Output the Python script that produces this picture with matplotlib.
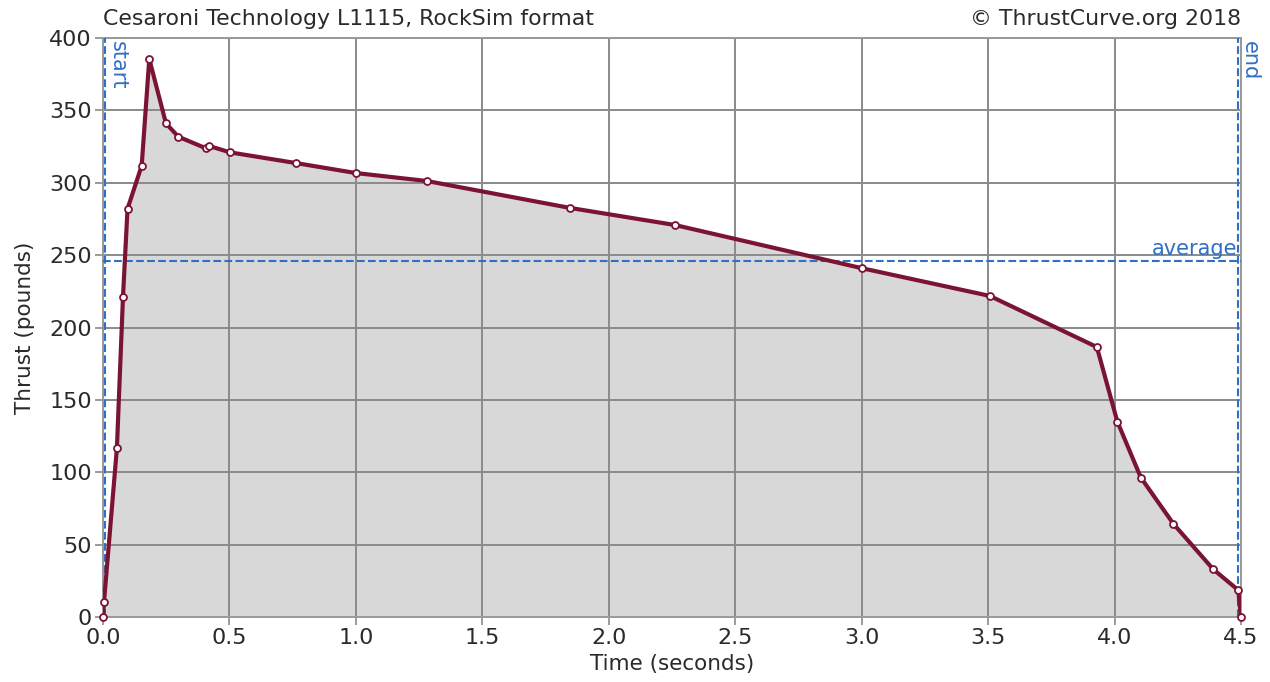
import matplotlib
matplotlib.use('Agg')
import matplotlib.pyplot as plt

# Thrust curve samples
time_s = [0.0, 0.004, 0.055, 0.079, 0.097, 0.153, 0.183, 0.249, 0.298, 0.407,
          0.42, 0.502, 0.763, 1.0, 1.281, 1.847, 2.262, 3.0, 3.507, 3.93,
          4.011, 4.104, 4.233, 4.39, 4.489, 4.5]
thrust_lb = [0, 10.4, 116.8, 221, 282, 311.8, 385.5, 341, 331.8, 323.8,
             325.4, 321, 313.6, 306.7, 301.2, 282.6, 270.8, 241, 221.8, 186.5,
             135, 96.3, 64.3, 33, 18.6, 0]

burn_start = 0.008
burn_end = 4.488
average_thrust = 246.0

x_ticks = [0.0, 0.5, 1.0, 1.5, 2.0, 2.5, 3.0, 3.5, 4.0, 4.5]
y_ticks = [0, 50, 100, 150, 200, 250, 300, 350, 400]

CURVE = '#7b1432'
MARKER = '#7b1432'
REF = '#2f6fc6'
GRID = '#8a8a8a'
TEXT = '#2a2a2a'

fig = plt.figure(figsize=(12.7, 6.82), dpi=100)
ax = fig.add_axes([103 / 1270, 65 / 682, 1138 / 1270, 579 / 682])

ax.fill_between(time_s, thrust_lb, 0, color='#d8d8d8', linewidth=0, zorder=1)
ax.plot(time_s, thrust_lb, '-', color=CURVE, linewidth=3, zorder=3)
ax.plot(time_s, thrust_lb, 'o', markersize=5, markerfacecolor='white',
        markeredgecolor=MARKER, markeredgewidth=1.3, zorder=4, clip_on=False)

# burn start / end and average markers
ax.axvline(burn_start, color=REF, linestyle='--', linewidth=1.5, zorder=2.6)
ax.axvline(burn_end, color=REF, linestyle='--', linewidth=1.5, zorder=2.6)
ax.axhline(average_thrust, color=REF, linestyle='--', linewidth=1.5, zorder=2.6)
ax.text(burn_start + 0.012, 398, 'start', rotation=-90, color=REF,
        fontsize=15, ha='left', va='top')
ax.text(burn_end + 0.008, 398, 'end', rotation=-90, color=REF,
        fontsize=15, ha='left', va='top')
ax.text(burn_end - 0.003, average_thrust + 1, 'average', color=REF,
        fontsize=15, ha='right', va='bottom')

ax.set_xlim(0, 4.5)
ax.set_ylim(0, 400)
ax.set_xticks(x_ticks)
ax.set_xticklabels([f'{v:.1f}' for v in x_ticks])
ax.set_yticks(y_ticks)
ax.set_axisbelow('line')
ax.grid(True, color=GRID, linewidth=1.4, linestyle='-')
for s in ax.spines.values():
    s.set_color('#9a9a9a')
    s.set_linewidth(1.4)
ax.tick_params(direction='out', length=6, width=1.2, color=GRID,
               labelsize=16, labelcolor=TEXT, pad=2)

ax.set_xlabel('Time (seconds)', fontsize=15.5, color=TEXT, labelpad=4)
ax.set_ylabel('Thrust (pounds)', fontsize=15.5, color=TEXT, labelpad=10)

fig.text(103 / 1270, 1 - 19 / 682, 'Cesaroni Technology L1115, RockSim format',
         fontsize=15.8, color=TEXT, ha='left', va='center')
fig.text(1241 / 1270, 1 - 19 / 682, '\u00a9 ThrustCurve.org 2018',
         fontsize=15.8, color=TEXT, ha='right', va='center')

fig.savefig('out.png', dpi=100, facecolor='white')
